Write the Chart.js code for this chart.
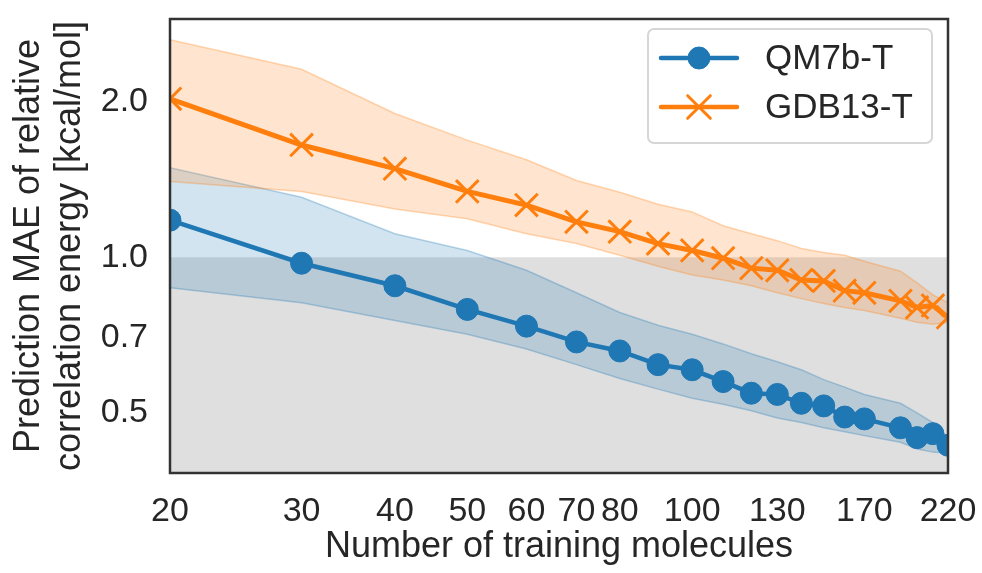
<!DOCTYPE html>
<html>
<head>
<meta charset="utf-8">
<script src="https://cdn.jsdelivr.net/npm/chart.js@4"></script>
<style>
  html, body { margin: 0; padding: 0; background: #fff; }
  #wrap { width: 982px; height: 573px; }
</style>
</head>
<body>
<div id="wrap"><canvas id="chart"></canvas></div>
<script>
// training set sizes (x) and MAE values
const trainSizes = [20, 30, 40, 50, 60, 70, 80, 90, 100, 110, 120, 130, 140, 150, 160, 170, 190, 200, 210, 220];
const qm7bMae   = [1.18, 0.974, 0.881, 0.793, 0.736, 0.686, 0.659, 0.620, 0.606, 0.575, 0.546, 0.543, 0.522, 0.516, 0.491, 0.487, 0.468, 0.448, 0.456, 0.433];
const qm7bUpper = [1.49, 1.307, 1.111, 1.031, 0.944, 0.854, 0.782, 0.739, 0.710, 0.680, 0.651, 0.628, 0.606, 0.580, 0.561, 0.543, 0.522, 0.500, 0.479, 0.448];
const qm7bLower = [0.873, 0.817, 0.755, 0.710, 0.665, 0.620, 0.583, 0.556, 0.534, 0.520, 0.505, 0.489, 0.479, 0.468, 0.460, 0.452, 0.439, 0.426, 0.420, 0.418];
const gdbMae    = [2.026, 1.649, 1.484, 1.341, 1.262, 1.171, 1.121, 1.063, 1.031, 0.996, 0.953, 0.944, 0.904, 0.900, 0.862, 0.854, 0.824, 0.800, 0.807, 0.765];
const gdbUpper  = [2.636, 2.311, 1.897, 1.685, 1.544, 1.408, 1.336, 1.267, 1.224, 1.151, 1.111, 1.077, 1.040, 1.022, 1.009, 0.983, 0.940, 0.892, 0.846, 0.817];
const gdbLower  = [1.402, 1.341, 1.240, 1.187, 1.111, 1.063, 1.009, 0.961, 0.924, 0.904, 0.881, 0.854, 0.832, 0.814, 0.800, 0.789, 0.762, 0.749, 0.742, 0.749];
const thresholdY = 1.0; // shaded region below this
const xTicks = [20, 30, 40, 50, 60, 70, 80, 100, 130, 170, 220];
const yTicks = [0.5, 0.7, 1.0, 2.0];
const seriesNames = ['QM7b-T', 'GDB13-T'];

const BLUE = '#1f77b4';
const ORANGE = '#ff7f0e';
const TEXT = '#262626';
const FONT = 'Liberation Sans, Arial, sans-serif';

const pts = (ys) => trainSizes.map((x, i) => ({ x, y: ys[i] }));

const band = (ys, rgb, fill) => ({
  data: pts(ys),
  borderColor: `rgba(${rgb},0.3)`,
  borderWidth: 1.5,
  backgroundColor: `rgba(${rgb},0.2)`,
  pointRadius: 0,
  fill,
  clip: 0,
});

// no extra label padding, so the plot box sits where the layout says
const noPad = (s) => { s.paddingTop = 0; s.paddingBottom = 0; s.paddingLeft = 0; s.paddingRight = 0; };

// spines all round the plot area
const frame = {
  id: 'frame',
  afterDatasetsDraw(chart) {
    const { ctx, chartArea: a } = chart;
    ctx.save();
    ctx.strokeStyle = '#333';
    ctx.lineWidth = 2.5;
    ctx.strokeRect(a.left, a.top, a.right - a.left, a.bottom - a.top);
    ctx.restore();
  },
};

// matplotlib-like legend, line + marker
const legendBox = {
  id: 'legendBox',
  afterDraw(chart) {
    const { ctx } = chart;
    const x0 = 648, y0 = 29, w = 284, h = 114;
    ctx.save();
    ctx.fillStyle = 'rgba(255,255,255,0.85)';
    ctx.strokeStyle = '#d6d6d6';
    ctx.lineWidth = 2;
    ctx.beginPath();
    ctx.roundRect(x0, y0, w, h, 6);
    ctx.fill();
    ctx.stroke();
    const rows = [
      { y: 58, color: BLUE, style: 'circle', radius: 11, bw: 1 },
      { y: 107, color: ORANGE, style: 'crossRot', radius: 16, bw: 3 },
    ];
    rows.forEach((r, i) => {
      ctx.strokeStyle = r.color;
      ctx.fillStyle = r.color;
      ctx.lineWidth = 4.5;
      ctx.lineCap = 'round';
      ctx.beginPath();
      ctx.moveTo(661, r.y);
      ctx.lineTo(737, r.y);
      ctx.stroke();
      ctx.lineWidth = r.bw;
      Chart.helpers.drawPoint(ctx, { pointStyle: r.style, radius: r.radius, borderWidth: r.bw, rotation: 0 }, 699, r.y);
      ctx.fillStyle = TEXT;
      ctx.font = `35px ${FONT}`;
      ctx.textBaseline = 'middle';
      ctx.textAlign = 'left';
      ctx.fillText(seriesNames[i], 765, r.y + 1);
    });
    ctx.restore();
  },
};

new Chart(document.getElementById('chart'), {
  type: 'line',
  data: {
    datasets: [
      {
        label: seriesNames[0],
        data: pts(qm7bMae),
        borderColor: BLUE,
        backgroundColor: BLUE,
        borderWidth: 4.5,
        pointStyle: 'circle',
        pointRadius: 11,
        pointBorderWidth: 1,
        fill: false,
        clip: 0,
      },
      {
        label: seriesNames[1],
        data: pts(gdbMae),
        borderColor: ORANGE,
        backgroundColor: ORANGE,
        borderWidth: 5,
        pointStyle: 'crossRot',
        pointRadius: 16,
        pointBorderWidth: 3,
        fill: false,
        clip: 0,
      },
      band(gdbUpper, '255,127,14', '+1'),
      band(gdbLower, '255,127,14', false),
      band(qm7bUpper, '31,119,180', '+1'),
      band(qm7bLower, '31,119,180', false),
      {
        data: [{ x: trainSizes[0], y: thresholdY }, { x: trainSizes[trainSizes.length - 1], y: thresholdY }],
        borderWidth: 0,
        borderColor: 'rgba(0,0,0,0)',
        backgroundColor: '#dfdfdf',
        pointRadius: 0,
        fill: 'start',
        clip: 0,
      },
    ],
  },
  options: {
    responsive: true,
    maintainAspectRatio: false,
    animation: false,
    layout: { padding: { left: 0, top: 12, right: 34, bottom: 0 } },
    plugins: { legend: { display: false }, tooltip: { enabled: false } },
    scales: {
      x: {
        type: 'logarithmic',
        min: 20,
        max: 220,
        grid: { display: false, drawTicks: false },
        border: { display: false },
        afterBuildTicks: (s) => { s.ticks = xTicks.map((v) => ({ value: v })); },
        afterFit: (s) => { s.height = 100; noPad(s); },
        ticks: {
          autoSkip: false,
          maxRotation: 0,
          padding: 18,
          color: TEXT,
          font: { family: FONT, size: 34 },
          callback: (v) => String(v),
        },
        title: {
          display: true,
          text: 'Number of training molecules',
          color: TEXT,
          font: { family: FONT, size: 36, lineHeight: 1.2 },
          padding: { top: 0, bottom: 4 },
        },
      },
      y: {
        type: 'logarithmic',
        min: 0.3827,
        max: 2.89,
        grid: { display: false, drawTicks: false },
        border: { display: false },
        afterBuildTicks: (s) => { s.ticks = yTicks.map((v) => ({ value: v })); },
        afterFit: (s) => { s.width = 170; noPad(s); },
        ticks: {
          autoSkip: false,
          padding: 22,
          color: TEXT,
          font: { family: FONT, size: 34 },
          callback: (v) => Number(v).toFixed(1),
        },
        title: {
          display: true,
          text: ['Prediction MAE of relative', 'correlation energy [kcal/mol]'],
          color: TEXT,
          font: { family: FONT, size: 36, lineHeight: 1.15 },
          padding: { top: 8, bottom: 0 },
        },
      },
    },
  },
  plugins: [frame, legendBox],
});
</script>
</body>
</html>
